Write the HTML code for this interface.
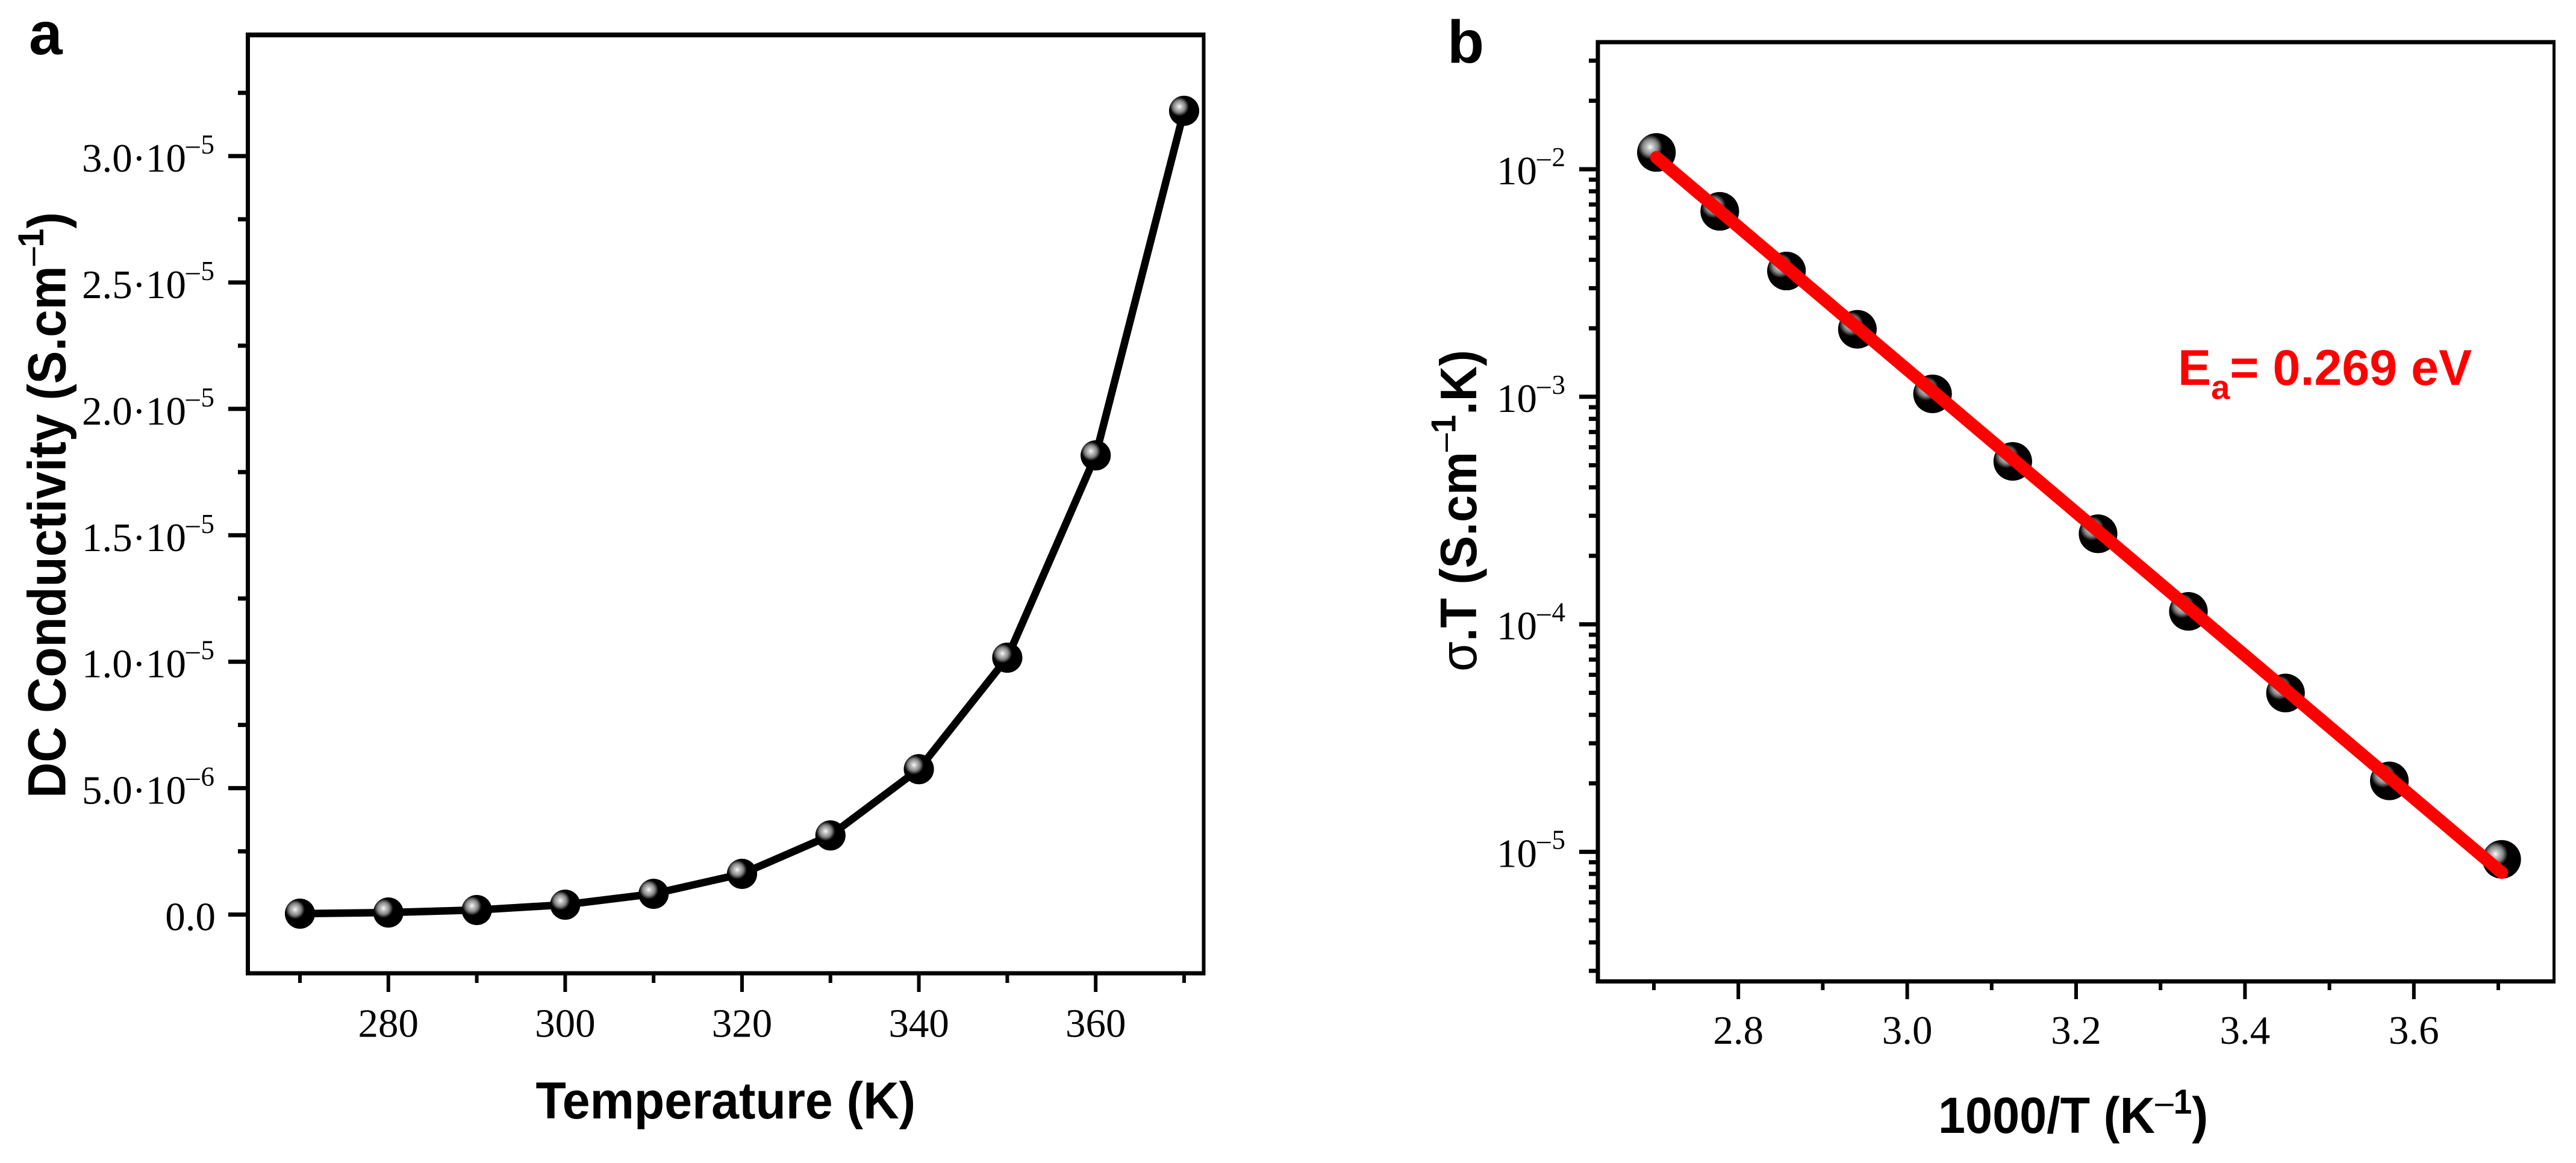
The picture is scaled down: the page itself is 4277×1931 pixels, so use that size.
<!DOCTYPE html>
<html lang="en">
<head>
<meta charset="utf-8">
<title>DC conductivity and Arrhenius plot</title>
<style>
html,body{margin:0;padding:0;background:#fff;width:4277px;height:1931px;overflow:hidden}
svg{display:block}
.tick{font-family:"Liberation Serif",serif;font-size:67px;fill:#000}
.title{font-family:"Liberation Sans",sans-serif;font-size:81px;font-weight:bold;fill:#000}
.panel{font-family:"Liberation Sans",sans-serif;font-size:100px;font-weight:bold;fill:#000}
</style>
</head>
<body>
<svg id="fig" xmlns="http://www.w3.org/2000/svg" width="4277" height="1931" viewBox="0 0 4277 1931">
  <defs>
    <radialGradient id="sphere" cx="0.34" cy="0.36" r="0.32">
      <stop offset="0" stop-color="#ffffff"/>
      <stop offset="0.2" stop-color="#cfcfcf"/>
      <stop offset="0.62" stop-color="#858585"/>
      <stop offset="1" stop-color="#000000"/>
    </radialGradient>
  </defs>
  <rect x="0" y="0" width="4277" height="1931" fill="#ffffff"/>

  <text class="panel" x="48" y="90">a</text>
  <text class="panel" x="2403" y="104">b</text>

  <g id="panelA"></g>
  <g id="panelB"></g>

  <text class="title" transform="translate(889.5,1857) scale(1.018,1.06)">Temperature (K)</text>
  <text class="title" transform="translate(108.5,1325) rotate(-90) scale(1.012,1.1)">DC Conductivity (S.cm<tspan dy="-33" font-size="55"><tspan font-weight="normal">–</tspan>1</tspan><tspan dy="33">)</tspan></text>

  <text class="title" transform="translate(3218,1881) scale(1,1.04)">1000/T (K<tspan dy="-31" font-size="55"><tspan font-weight="normal">–</tspan>1</tspan><tspan dy="31">)</tspan></text>
  <text class="title" transform="translate(2451,1115) rotate(-90) scale(1,1.05)"><tspan font-weight="normal">σ</tspan>.T (S.cm<tspan dy="-33" font-size="55"><tspan font-weight="normal">–</tspan>1</tspan><tspan dy="33">.K)</tspan></text>

  <text class="title" transform="translate(3616,639) scale(1.02,1.03)" style="fill:#ff0000">E<tspan dy="23" font-size="55">a</tspan><tspan dy="-23">= 0.269 eV</tspan></text>
</svg>
<script>
// Panel a data
const temperatureK = [270, 280, 290, 300, 310, 320, 330, 340, 350, 360, 370];
const dcConductivity = [0.0036e-5, 0.008e-5, 0.018e-5, 0.039e-5, 0.082e-5, 0.161e-5, 0.313e-5, 0.575e-5, 1.016e-5, 1.816e-5, 3.179e-5];
const xMajorA = [280, 300, 320, 340, 360];
const xMinorA = [270, 290, 310, 330, 350, 370];
const yMajorA = [0, 0.5e-5, 1.0e-5, 1.5e-5, 2.0e-5, 2.5e-5, 3.0e-5];
const yMinorA = [0.25e-5, 0.75e-5, 1.25e-5, 1.75e-5, 2.25e-5, 2.75e-5, 3.25e-5];
const yMantissaA = ["0.0", "5.0", "1.0", "1.5", "2.0", "2.5", "3.0"];
const yExponentA = ["", "–6", "–5", "–5", "–5", "–5", "–5"];

// Panel b data
const inverseT = [2.703, 2.778, 2.857, 2.941, 3.03, 3.125, 3.226, 3.333, 3.448, 3.571, 3.704];
const sigmaT = [0.01185, 0.00653, 0.00357, 0.00198, 0.00103, 5.2e-4, 2.5e-4, 1.14e-4, 4.99e-5, 2.05e-5, 9.27e-6];
const fitX = [2.703, 3.704];
const fitY = [0.01127, 8.11e-6];
const xMajorB = [2.8, 3.0, 3.2, 3.4, 3.6];
const xMinorB = [2.7, 2.9, 3.1, 3.3, 3.5, 3.7];
const yMajorB = [1e-2, 1e-3, 1e-4, 1e-5];
const yMinorB = [3e-2, 2e-2, 9e-3, 8e-3, 7e-3, 6e-3, 5e-3, 4e-3, 3e-3, 2e-3, 9e-4, 8e-4, 7e-4, 6e-4, 5e-4, 4e-4, 3e-4, 2e-4, 9e-5, 8e-5, 7e-5, 6e-5, 5e-5, 4e-5, 3e-5, 2e-5, 9e-6, 8e-6, 7e-6, 6e-6, 5e-6, 4e-6, 3e-6];
const yExponentB = ["–2", "–3", "–4", "–5"];

// Axis functions
function xA(v) { return 498 + (v - 270) * 14.68; }
function yA(v) { return 1518.5 - (v / 1e-5) * 419.8; }
function xB(v) { return 2746 + (v - 2.7) * 1402; }
function yB(v) { return 281 + (-2 - Math.log10(v)) * 377.8; }

const NS = 'http://www.w3.org/2000/svg';

function shape(parent, tag, attrs) {
  const el = document.createElementNS(NS, tag);
  for (const k in attrs) el.setAttribute(k, attrs[k]);
  parent.appendChild(el);
  return el;
}

function hLine(parent, x1, x2, y, w) {
  return shape(parent, 'line', { x1: x1, x2: x2, y1: y, y2: y, stroke: '#000', 'stroke-width': w });
}

function vLine(parent, x, y1, y2, w) {
  return shape(parent, 'line', { x1: x, x2: x, y1: y1, y2: y2, stroke: '#000', 'stroke-width': w });
}

function frame(parent, l, r, t, b, wl, wr, wt, wb) {
  const left = vLine(parent, l, t - wt / 2, b + wb / 2, wl);
  
  
  const right = vLine(parent, r, t - wt / 2, b + wb / 2, wr);
  
  
  const top = hLine(parent, l - wl / 2, r + wr / 2, t, wt);
  
  
  const bottom = hLine(parent, l - wl / 2, r + wr / 2, b, wb);
  
  
}

function marker(parent, cx, cy, r) {
  const g = shape(parent, 'g', {});
  
  
  shape(g, 'circle', { cx: cx, cy: cy, r: r, fill: '#000' });
  shape(g, 'circle', { cx: cx, cy: cy, r: r, fill: 'url(#sphere)' });
}

function xTickLabel(parent, x, y, str) {
  const t = shape(parent, 'text', { x: x, y: y, 'text-anchor': 'middle', class: 'tick' });
  t.textContent = str;
  
  
}

function yTickLabel(parent, xEnd, y, main, exp, rise) {
  const t = shape(parent, 'text', { x: xEnd, y: y, 'text-anchor': 'end', class: 'tick' });
  t.appendChild(document.createTextNode(main));
  if (exp) {
    const s = shape(t, 'tspan', { dy: -rise, 'font-size': 45, 'letter-spacing': 2 });
    s.textContent = exp;
  }
  
  
}

// ---- Panel a ----
const A = document.getElementById('panelA');
frame(A, 411.5, 1998.5, 58, 1616, 7, 6, 8, 7);

xMajorA.forEach(function (v) {
  const tk = vLine(A, xA(v), 1616, 1647, 6);
  
  
  xTickLabel(A, xA(v), 1721.5, String(v));
});
xMinorA.forEach(function (v) {
  const tk = vLine(A, xA(v), 1616, 1632, 6);
  
  
});
yMajorA.forEach(function (v, i) {
  const tk = hLine(A, 379, 411, yA(v), 7);
  
  
  yTickLabel(A, 358, yA(v) + 26, yExponentA[i] ? yMantissaA[i] + '·10' : yMantissaA[i], yExponentA[i], 30);
});
yMinorA.forEach(function (v) {
  const tk = hLine(A, 395, 411, yA(v), 7);
  
  
});

const seriesLine = shape(A, 'polyline', {
  points: temperatureK.map(function (t, i) { return xA(t) + ',' + yA(dcConductivity[i]); }).join(' '),
  fill: 'none', stroke: '#000', 'stroke-width': 12.5, 'stroke-linejoin': 'round'
});



temperatureK.forEach(function (t, i) {
  marker(A, xA(t), yA(dcConductivity[i]), 25);
});

// ---- Panel b ----
const B = document.getElementById('panelB');
frame(B, 2653, 4240.5, 70, 1629.5, 7, 5, 7, 7);

xMajorB.forEach(function (v) {
  const tk = vLine(B, xB(v), 1629.5, 1659, 6);
  
  
  xTickLabel(B, xB(v), 1733, v.toFixed(1));
});
xMinorB.forEach(function (v) {
  const tk = vLine(B, xB(v), 1629.5, 1644, 6);
  
  
});
yMajorB.forEach(function (v, i) {
  const tk = hLine(B, 2622, 2653, yB(v), 7);
  
  
  yTickLabel(B, 2601, yB(v) + 25, '10', yExponentB[i], 30);
});
yMinorB.forEach(function (v) {
  const tk = hLine(B, 2638, 2653, yB(v), 7);
  
  
});

inverseT.forEach(function (x, i) {
  marker(B, xB(x), yB(sigmaT[i]), 32);
});

const fitLine = shape(B, 'polyline', {
  points: fitX.map(function (x, i) { return xB(x) + ',' + yB(fitY[i]); }).join(' '),
  fill: 'none', stroke: '#ff0000', 'stroke-width': 21, 'stroke-linecap': 'round'
});


</script>
</body>
</html>
